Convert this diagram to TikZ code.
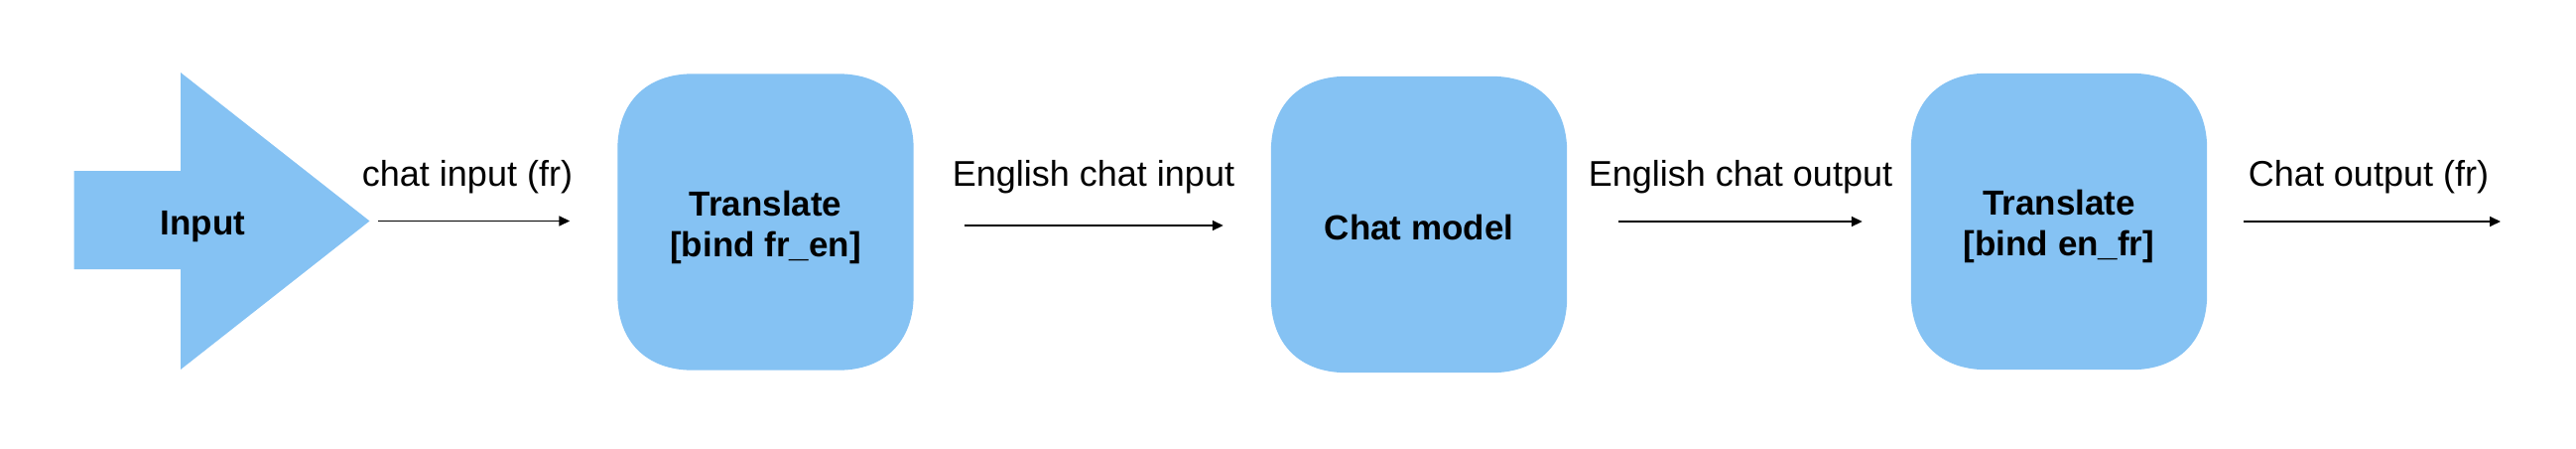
\documentclass[tikz,border=0pt]{standalone}
\usepackage{fontspec}
\setmainfont{Liberation Sans}
\usetikzlibrary{arrows.meta}
\definecolor{boxblue}{RGB}{133,194,243}
\newcommand\squirclefill[1]{%
  \fill[boxblue] ([yshift=-76pt]#1.north west) .. controls +(0,-47) and +(-47,0) .. ([xshift=76pt]#1.north west)
    -- ([xshift=-76pt]#1.north east) .. controls +(47,0) and +(0,-47) .. ([yshift=-76pt]#1.north east)
    -- ([yshift=76pt]#1.south east) .. controls +(0,47) and +(47,0) .. ([xshift=-76pt]#1.south east)
    -- ([xshift=76pt]#1.south west) .. controls +(-47,0) and +(0,47) .. ([yshift=76pt]#1.south west)
    -- cycle;}
\begin{document}
\begin{tikzpicture}[x=1pt,y=-1pt,
  stagebox/.style={rectangle, draw=none,
    minimum width=298pt, minimum height=298pt, inner sep=0pt},
  stagetext/.style={align=center, inner sep=0pt,
    font=\fontsize{35}{41}\selectfont\bfseries},
  conn/.style={line width=1.6pt, -{Triangle[length=11pt,width=10pt]}},
  lbl/.style={anchor=base, inner sep=0pt, font=\fontsize{36}{43}\selectfont}]
\useasboundingbox (0,0) rectangle (2596,451);
% input arrow
\fill[boxblue] (74.5,172) -- (182,172) -- (182,73) -- (372.5,222.5)
  -- (182,372) -- (182,271) -- (74.5,271) -- cycle;
\coordinate (tip) at (372.5,222.5);
\node[stagetext, anchor=base] (inp) at (204.5,236.5) {Input};
% boxes
\node[stagebox] (b1) at (771.5,223.5) {};
\squirclefill{b1}
\node[stagetext] (t1) at ([yshift=-5pt]b1.center) {Translate\\{[bind fr\_en]}};
\node[stagebox] (b2) at (1430,226) {};
\squirclefill{b2}
\node[stagetext, anchor=base] (t2) at ([yshift=-15.5pt]b2.center) {Chat model};
\node[stagebox] (b3) at (2075,223) {};
\squirclefill{b3}
\node[stagetext] (t3) at ([yshift=-5pt]b3.center) {Translate\\{[bind en\_fr]}};
\coordinate (out) at (2520,223);
% connectors
\draw[conn] ([xshift=8.5pt]tip) -- ([xshift=-48pt,yshift=1pt]b1.west);
\draw[conn] ([xshift=51pt,yshift=-3.5pt]b1.east) -- ([xshift=-48pt,yshift=-1pt]b2.west);
\draw[conn] ([xshift=52pt,yshift=3pt]b2.east) -- ([xshift=-49pt]b3.west);
\draw[conn] ([xshift=37pt]b3.east) -- (out);
% labels
\node[lbl] (l1) at (471,187) {chat input (fr)};
\node[lbl] (l2) at (1102,187) {English chat input};
\node[lbl] (l3) at (1754,187) {English chat output};
\node[lbl] (l4) at (2387,187) {Chat output (fr)};
\end{tikzpicture}
\end{document}
